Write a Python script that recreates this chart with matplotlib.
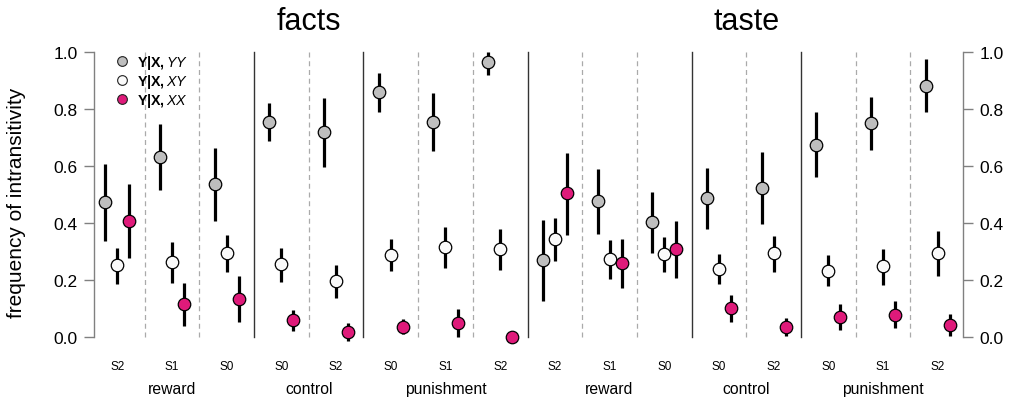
import matplotlib.pyplot as plt
from matplotlib.lines import Line2D
import numpy as np

plt.rcParams['font.family'] = ['Liberation Sans', 'DejaVu Sans']
plt.rcParams['mathtext.fontset'] = 'custom'
plt.rcParams['mathtext.rm'] = 'Liberation Sans'
plt.rcParams['mathtext.bf'] = 'Liberation Sans:bold'
plt.rcParams['mathtext.it'] = 'Liberation Sans:italic'

panels = ["facts", "taste"]
conditions = ["reward", "control", "punishment"]
stim_labels = ["S2", "S1", "S0", "S0", "S2", "S0", "S1", "S2"]
n_per_cond = [3, 2, 3]

# facts then taste, 16 groups
yy_mean = [0.475, 0.632, 0.536, 0.756, 0.718, 0.860, 0.756, 0.966,
           0.269, 0.477, 0.402, 0.487, 0.523, 0.675, 0.752, 0.882]
yy_lo = [0.338, 0.517, 0.408, 0.689, 0.596, 0.791, 0.654, 0.920,
         0.127, 0.363, 0.294, 0.380, 0.398, 0.561, 0.656, 0.791]
yy_hi = [0.607, 0.747, 0.663, 0.821, 0.840, 0.926, 0.856, 1.000,
         0.412, 0.589, 0.510, 0.593, 0.650, 0.789, 0.842, 0.975]

xy_mean = [0.251, 0.262, 0.294, 0.255, 0.196, 0.288, 0.315, 0.309,
           0.344, 0.273, 0.290, 0.239, 0.294, 0.233, 0.248, 0.295]
xy_lo = [0.186, 0.191, 0.229, 0.194, 0.138, 0.232, 0.243, 0.234,
         0.265, 0.202, 0.229, 0.187, 0.229, 0.178, 0.184, 0.213]
xy_hi = [0.312, 0.332, 0.358, 0.312, 0.254, 0.344, 0.386, 0.380,
         0.418, 0.340, 0.351, 0.290, 0.354, 0.288, 0.309, 0.371]

xx_mean = [0.408, 0.115, 0.135, 0.060, 0.016, 0.036, 0.049, 0.000,
           0.504, 0.258, 0.308, 0.102, 0.035, 0.070, 0.078, 0.043]
xx_lo = [0.278, 0.040, 0.054, 0.022, -0.015, 0.011, 0.001, 0.000,
         0.359, 0.171, 0.206, 0.054, 0.002, 0.026, 0.032, 0.002]
xx_hi = [0.537, 0.189, 0.215, 0.095, 0.049, 0.063, 0.098, 0.000,
         0.646, 0.344, 0.408, 0.147, 0.065, 0.116, 0.126, 0.081]

series = [
    (yy_mean, yy_lo, yy_hi, "#BEBEBE", r"$\mathbf{Y|X,}\mathit{YY}$"),
    (xy_mean, xy_lo, xy_hi, "#FAFAFA", r"$\mathbf{Y|X,}\mathit{XY}$"),
    (xx_mean, xx_lo, xx_hi, "#DF1A7A", r"$\mathbf{Y|X,}\mathit{XX}$"),
]

fig = plt.figure(figsize=(10.13, 4.02), dpi=100)
ax = fig.add_axes([90 / 1013, 1 - 352.25 / 402, 875 / 1013, 313.5 / 402])
ax.set_xlim(0, 16)
ax.set_ylim(-0.05, 1.05)

n_groups = len(yy_mean)
centers = np.arange(n_groups) + 0.5
offsets = [-0.22, 0.0, 0.22]

# separators: solid between conditions / panels, dashed inside a condition
solid = set()
b = 0
for p in range(len(panels)):
    for n in n_per_cond:
        b += n
        solid.add(b)
for k in range(1, n_groups):
    if k in solid:
        ax.plot([k, k], [0, 1], color='#333333', lw=1.0, zorder=1)
    else:
        ax.plot([k, k], [0, 1], color='#AAAAAA', lw=0.9, ls=(0, (4, 3)), zorder=1)

handles = []
for (m, lo, hi, col, lab), off in zip(series, offsets):
    xs = centers + off
    ax.vlines(xs, lo, hi, color='black', lw=2.3, zorder=3)
    ax.plot(xs, m, 'o', ms=9, mfc=col, mec='black', mew=0.9, zorder=4, clip_on=False)
    handles.append(Line2D([], [], ls='none', marker='o', ms=7, mfc=col, mec='#222222', mew=0.8, label=lab))

# axes in R style
for side in ['top', 'bottom']:
    ax.spines[side].set_visible(False)
ax.spines['left'].set_position(('data', 0.07))
ax.spines['right'].set_position(('data', 15.97))
for side in ['left', 'right']:
    ax.spines[side].set_bounds(0, 1)
    ax.spines[side].set_color('#808080')
    ax.spines[side].set_linewidth(1.0)
ax.set_yticks(np.arange(0, 1.01, 0.2))
ax.set_yticklabels([f"{v:.1f}" for v in np.arange(0, 1.01, 0.2)])
ax.tick_params(axis='y', which='both', left=True, right=True, labelleft=True, labelright=True,
               length=7.5, width=1.0, color='#808080', labelsize=12.5, pad=4)
ax.set_xticks(centers)
ax.set_xticklabels(stim_labels * len(panels))
ax.tick_params(axis='x', length=0, labelsize=8.5, pad=6.5)

# condition labels
start = 0
for p in range(len(panels)):
    for cname, n in zip(conditions, n_per_cond):
        ax.text(start + n / 2, -0.182, cname, ha='center', va='center', fontsize=11.3, clip_on=False)
        start += n

for i, name in enumerate(panels):
    ax.text(n_groups / len(panels) * (i + 0.5), 1.11, name, ha='center', va='center', fontsize=22)

fig.text(17 / 1013, 1 - 203 / 402, "frequency of intransitivity", rotation=90,
         ha='center', va='center', fontsize=15)

ax.legend(handles=handles, loc='upper left', bbox_to_anchor=(0.0286, 0.95), frameon=False,
          fontsize=10.3, handlelength=1.0, handletextpad=0.55, labelspacing=0.05,
          borderpad=0, borderaxespad=0)

fig.savefig("out.png", dpi=100)
